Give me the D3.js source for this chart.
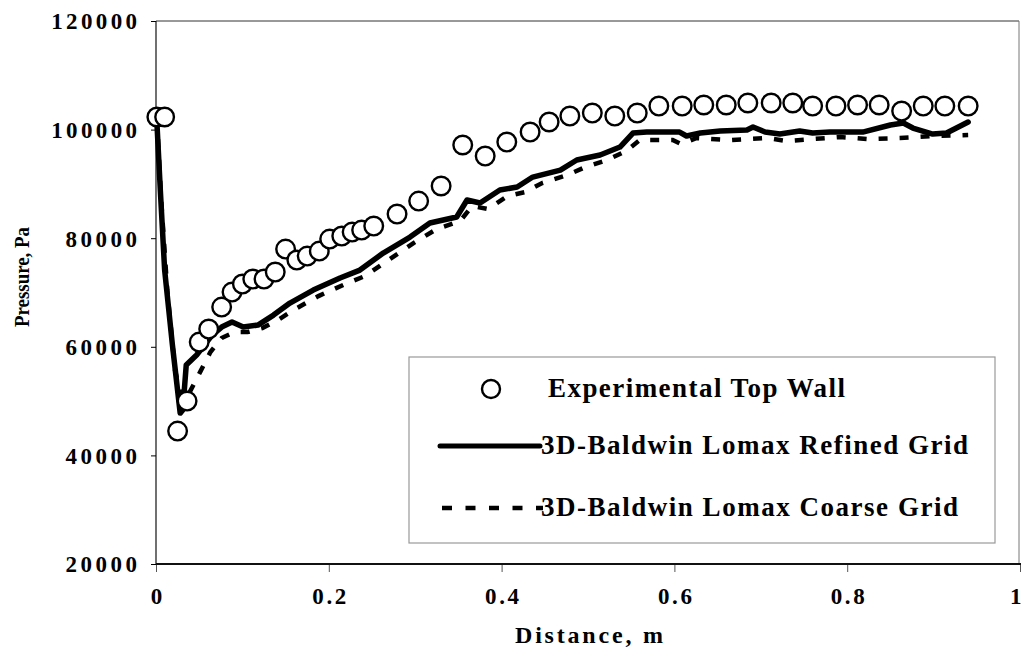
<!DOCTYPE html>
<html>
<head>
<meta charset="utf-8">
<script src="https://cdn.jsdelivr.net/npm/d3@7/dist/d3.min.js"></script>
<style>
body { margin: 0; background: #fff; }
text { font-family: "Liberation Serif", "Times New Roman", serif; font-weight: bold; fill: #000; }
</style>
</head>
<body>
<div id="chart"></div>
<script>
// experimental top wall (circles)
var expDist = [0.001, 0.010, 0.025, 0.036, 0.050, 0.061, 0.076, 0.088, 0.100, 0.112, 0.125, 0.138,
               0.150, 0.163, 0.175, 0.189, 0.201, 0.215, 0.227, 0.238, 0.252, 0.279, 0.304, 0.330,
               0.355, 0.381, 0.406, 0.433, 0.455, 0.479, 0.505, 0.531, 0.557, 0.582, 0.609, 0.634,
               0.660, 0.685, 0.712, 0.737, 0.760, 0.787, 0.812, 0.837, 0.863, 0.888, 0.913, 0.940];
var expPressure = [102320, 102320, 44480, 50000, 60870, 63270, 67320, 70080, 71560, 72480, 72480, 73770,
                   78000, 75980, 76710, 77630, 79840, 80400, 81130, 81500, 82240, 84450, 86840, 89610,
                   97160, 95130, 97710, 99550, 101400, 102500, 103050, 102500, 103050, 104340, 104340, 104530,
                   104530, 104900, 104900, 104900, 104340, 104340, 104530, 104530, 103420, 104340, 104340, 104340];

// 3D Baldwin Lomax, refined grid
var refinedDist = [0.001, 0.005, 0.010, 0.019, 0.028, 0.031, 0.035, 0.047, 0.065, 0.076, 0.088, 0.101,
                   0.118, 0.136, 0.155, 0.182, 0.213, 0.236, 0.263, 0.294, 0.317, 0.348, 0.360, 0.375,
                   0.398, 0.418, 0.436, 0.468, 0.487, 0.514, 0.537, 0.552, 0.568, 0.606, 0.614, 0.630,
                   0.653, 0.684, 0.691, 0.705, 0.722, 0.745, 0.760, 0.780, 0.818, 0.850, 0.865, 0.876,
                   0.899, 0.915, 0.940];
var refinedPressure = [101400, 88870, 74130, 60320, 47790, 48350, 56640, 58480, 62160, 63640, 64560, 63640,
                       64000, 65840, 68060, 70450, 72660, 74130, 77270, 80210, 82790, 83900, 87030, 86480,
                       88870, 89420, 91260, 92550, 94400, 95320, 96790, 99370, 99550, 99550, 98820, 99370,
                       99740, 99920, 100470, 99550, 99180, 99740, 99370, 99550, 99550, 100840, 101210, 100290,
                       99180, 99370, 101400];

// 3D Baldwin Lomax, coarse grid
var coarseDist = [0.001, 0.006, 0.013, 0.022, 0.030, 0.039, 0.051, 0.063, 0.076, 0.091, 0.106, 0.123,
                  0.141, 0.161, 0.188, 0.219, 0.242, 0.269, 0.298, 0.325, 0.352, 0.366, 0.384, 0.407,
                  0.427, 0.447, 0.476, 0.497, 0.522, 0.544, 0.560, 0.598, 0.608, 0.626, 0.664, 0.707,
                  0.730, 0.792, 0.823, 0.861, 0.902, 0.940];
var coarsePressure = [102130, 87030, 70450, 55710, 50190, 51660, 55340, 59030, 61610, 62710, 62710, 63450,
                      64920, 66950, 69340, 71560, 73030, 75980, 79110, 81690, 83160, 85920, 85370, 87770,
                      88500, 90160, 91630, 93100, 94400, 96050, 98080, 98080, 97340, 98450, 98080, 98450,
                      97900, 98630, 98260, 98450, 98820, 99000];

var xTicks = [0, 0.2, 0.4, 0.6, 0.8, 1];
var yTicks = [20000, 40000, 60000, 80000, 100000, 120000];
var legendLabels = ["Experimental Top Wall", "3D-Baldwin Lomax Refined Grid", "3D-Baldwin Lomax Coarse Grid"];
var xTitle = "Distance, m";
var yTitle = "Pressure, Pa";

var width = 1021, height = 649;
var plot = { left: 156, right: 1020, top: 21, bottom: 564 };

var svg = d3.select("#chart")
            .append("svg")
            .attr("width", width)
            .attr("height", height);

var x = d3.scaleLinear().domain([0, 1]).range([plot.left, plot.right]);
var y = d3.scaleLinear().domain([20000, 120000]).range([plot.bottom, plot.top]);

function zip(a, b) {
    return a.map(function (d, i) { return [d, b[i]]; });
}

// frame
svg.append("line").attr("x1", plot.left).attr("x2", 1019).attr("y1", plot.top).attr("y2", plot.top)
   .attr("stroke", "#333").attr("stroke-width", 1);
svg.append("line").attr("x1", 1019).attr("x2", 1019).attr("y1", plot.top).attr("y2", plot.bottom)
   .attr("stroke", "#777").attr("stroke-width", 1);
svg.append("line").attr("x1", plot.left).attr("x2", plot.left).attr("y1", plot.top).attr("y2", plot.bottom)
   .attr("stroke", "#111").attr("stroke-width", 1.2);

// axes
var yAxis = svg.append("g")
               .attr("transform", "translate(" + plot.left + ",0)")
               .call(d3.axisLeft(y).tickValues(yTicks).tickSize(5).tickPadding(14).tickFormat(d3.format("d")));
yAxis.select(".domain").remove();
yAxis.selectAll("text")
     .attr("font-size", 23)
     .attr("textLength", function (d) { return String(d).length * 14.3; })
     .attr("lengthAdjust", "spacing")
     .attr("dy", "0.34em")
     .style("font-family", "'Liberation Serif', serif").style("font-weight", "bold").attr("fill", "#000");

var xAxis = svg.append("g")
               .attr("transform", "translate(0," + plot.bottom + ")")
               .call(d3.axisBottom(x).tickValues(xTicks).tickSize(8).tickPadding(16).tickFormat(function (d) { return String(d); }));
xAxis.select(".domain").remove();
xAxis.selectAll(".tick line").attr("stroke", "#555");
xAxis.selectAll("text")
     .attr("font-size", 23)
     .attr("textLength", function (d) { return String(d).length === 1 ? 11.5 : 34; })
     .attr("lengthAdjust", "spacing")
     .attr("text-anchor", function (d) { return d === 1 ? "end" : "middle"; })
     .attr("dx", function (d) { return d === 1 ? 1 : 0; })
     .style("font-family", "'Liberation Serif', serif").style("font-weight", "bold").attr("fill", "#000");

svg.append("line").attr("x1", plot.left).attr("x2", width).attr("y1", plot.bottom).attr("y2", plot.bottom)
   .attr("stroke", "#111").attr("stroke-width", 2);

// axis titles
svg.append("text")
   .attr("x", 515).attr("y", 643)
   .attr("font-size", 24)
   .attr("textLength", 148)
   .attr("lengthAdjust", "spacing")
   .text(xTitle);

svg.append("text")
   .attr("transform", "translate(29,277) rotate(-90)")
   .attr("text-anchor", "middle")
   .attr("font-size", 22)
   .attr("textLength", 100)
   .attr("lengthAdjust", "spacingAndGlyphs")
   .text(yTitle);

// curves
var line = d3.line().x(function (d) { return x(d[0]); }).y(function (d) { return y(d[1]); });

svg.append("path")
   .datum(zip(refinedDist, refinedPressure))
   .attr("d", line)
   .attr("fill", "none")
   .attr("stroke", "#000")
   .attr("stroke-width", 5.5)
   .attr("stroke-linejoin", "round")
   .attr("stroke-linecap", "round");

svg.append("path")
   .datum(zip(coarseDist, coarsePressure))
   .attr("d", line)
   .attr("fill", "none")
   .attr("stroke", "#000")
   .attr("stroke-width", 4.5)
   .attr("stroke-dasharray", "9,12");

svg.append("g").selectAll("circle")
   .data(zip(expDist, expPressure))
   .enter()
   .append("circle")
   .attr("cx", function (d) { return x(d[0]); })
   .attr("cy", function (d) { return y(d[1]); })
   .attr("r", 9.3)
   .attr("fill", "#fff")
   .attr("stroke", "#000")
   .attr("stroke-width", 2.4);

// legend
var legend = svg.append("g");
legend.append("rect")
      .attr("x", 409).attr("y", 357).attr("width", 586).attr("height", 186)
      .attr("fill", "#fff").attr("stroke", "#999").attr("stroke-width", 1.2);

var legendRows = [389, 446, 508];
var legendTextX = [548, 541, 541];
var legendTextLen = [297, 427, 417];

legend.append("circle")
      .attr("cx", 491).attr("cy", legendRows[0]).attr("r", 9)
      .attr("fill", "#fff").attr("stroke", "#000").attr("stroke-width", 2.4);
legend.append("line")
      .attr("x1", 440).attr("x2", 540).attr("y1", legendRows[1]).attr("y2", legendRows[1])
      .attr("stroke", "#000").attr("stroke-width", 5).attr("stroke-linecap", "round");
legend.append("line")
      .attr("x1", 442).attr("x2", 543).attr("y1", legendRows[2]).attr("y2", legendRows[2])
      .attr("stroke", "#000").attr("stroke-width", 4.5).attr("stroke-dasharray", "10,13.5");

legend.selectAll("text.lab")
      .data(legendLabels)
      .enter()
      .append("text")
      .attr("class", "lab")
      .attr("x", function (d, i) { return legendTextX[i]; })
      .attr("y", function (d, i) { return legendRows[i] + 8; })
      .attr("font-size", 27)
      .attr("textLength", function (d, i) { return legendTextLen[i]; })
      .attr("lengthAdjust", "spacing")
      .text(function (d) { return d; });
</script>
</body>
</html>
